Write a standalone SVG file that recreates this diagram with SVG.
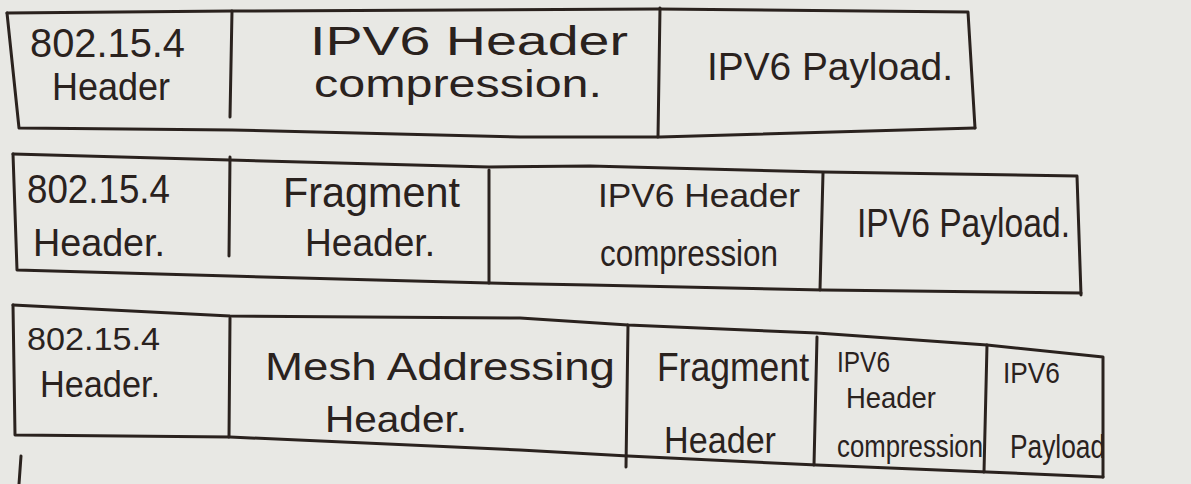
<svg xmlns="http://www.w3.org/2000/svg" width="1191" height="484" viewBox="0 0 1191 484">
  <style>
    .frame { fill: none; stroke: #2a221e; stroke-width: 3; stroke-linecap: round; stroke-linejoin: round; }
    .lbl { font-family: "Liberation Sans", Arial, sans-serif; fill: #2a221e; }
  </style>
  <rect width="1191" height="484" fill="#e8e8e4"/>

  <!-- Frame lines of the three frame layouts -->
  <g id="connectors">
    <!-- row 1 -->
    <path class="frame" d="M7,13 L232,11 L658,9 L968,12 L975,128"/>
    <path class="frame" d="M7,13 L19,128 L232,130 L520,137 L660,137 L975,128"/>
    <path class="frame" d="M232,11 L230,117"/>
    <path class="frame" d="M660,8 L658,137"/>
    <!-- row 2 -->
    <path class="frame" d="M13,154 L230,160 L489,167 L590,166 L823,172 L1077,176 L1081,295"/>
    <path class="frame" d="M13,154 L17,270 L230,276 L489,283 L590,285 L823,290 L1081,293"/>
    <path class="frame" d="M230,157 L229,256"/>
    <path class="frame" d="M489,170 L489,283"/>
    <path class="frame" d="M823,173 L820,290"/>
    <!-- row 3 -->
    <path class="frame" d="M13,305 L230,316 L520,318 L628,325 L817,333 L987,345 L1103,357 L1103,477"/>
    <path class="frame" d="M13,305 L15,435 L230,437 L520,450 L628,456 L817,465 L987,472 L1103,477"/>
    <path class="frame" d="M230,318 L229,437"/>
    <path class="frame" d="M628,325 L626,467"/>
    <path class="frame" d="M817,337 L814,465"/>
    <path class="frame" d="M987,345 L984,472"/>
    <path class="frame" d="M21,456 L19,484"/>
  </g>

  <!-- Row 1: plain compressed frame -->
  <g id="r1-mac">
    <text class="lbl" x="30" y="57" font-size="40" textLength="155" lengthAdjust="spacingAndGlyphs">802.15.4</text>
    <text class="lbl" x="52" y="100" font-size="38" textLength="118" lengthAdjust="spacingAndGlyphs">Header</text>
  </g>
  <g id="r1-iphc">
    <text class="lbl" x="310" y="55" font-size="40" textLength="318" lengthAdjust="spacingAndGlyphs">IPV6 Header</text>
    <text class="lbl" x="314" y="97" font-size="38" textLength="288" lengthAdjust="spacingAndGlyphs">compression.</text>
  </g>
  <g id="r1-payload">
    <text class="lbl" x="707" y="80" font-size="38" textLength="246" lengthAdjust="spacingAndGlyphs">IPV6 Payload.</text>
  </g>

  <!-- Row 2: fragmented frame -->
  <g id="r2-mac">
    <text class="lbl" x="27" y="203" font-size="40" textLength="143" lengthAdjust="spacingAndGlyphs">802.15.4</text>
    <text class="lbl" x="33" y="256" font-size="38" textLength="132" lengthAdjust="spacingAndGlyphs">Header.</text>
  </g>
  <g id="r2-frag">
    <text class="lbl" x="283" y="207" font-size="42" textLength="177" lengthAdjust="spacingAndGlyphs">Fragment</text>
    <text class="lbl" x="305" y="256" font-size="38" textLength="130" lengthAdjust="spacingAndGlyphs">Header.</text>
  </g>
  <g id="r2-iphc">
    <text class="lbl" x="598" y="207" font-size="34" textLength="202" lengthAdjust="spacingAndGlyphs">IPV6 Header</text>
    <text class="lbl" x="600" y="266" font-size="36" textLength="178" lengthAdjust="spacingAndGlyphs">compression</text>
  </g>
  <g id="r2-payload">
    <text class="lbl" x="857" y="237" font-size="40" textLength="213" lengthAdjust="spacingAndGlyphs">IPV6 Payload.</text>
  </g>

  <!-- Row 3: mesh-addressed fragmented frame -->
  <g id="r3-mac">
    <text class="lbl" x="27" y="350" font-size="32" textLength="133" lengthAdjust="spacingAndGlyphs">802.15.4</text>
    <text class="lbl" x="40" y="397" font-size="36" textLength="120" lengthAdjust="spacingAndGlyphs">Header.</text>
  </g>
  <g id="r3-mesh">
    <text class="lbl" x="265" y="380" font-size="38" textLength="350" lengthAdjust="spacingAndGlyphs">Mesh Addressing</text>
    <text class="lbl" x="325" y="432" font-size="36" textLength="142" lengthAdjust="spacingAndGlyphs">Header.</text>
  </g>
  <g id="r3-frag">
    <text class="lbl" x="657" y="381" font-size="40" textLength="152" lengthAdjust="spacingAndGlyphs">Fragment</text>
    <text class="lbl" x="664" y="453" font-size="36" textLength="112" lengthAdjust="spacingAndGlyphs">Header</text>
  </g>
  <g id="r3-iphc">
    <text class="lbl" x="837" y="372" font-size="30" textLength="53" lengthAdjust="spacingAndGlyphs">IPV6</text>
    <text class="lbl" x="846" y="408" font-size="30" textLength="90" lengthAdjust="spacingAndGlyphs">Header</text>
    <text class="lbl" x="837" y="457" font-size="32" textLength="146" lengthAdjust="spacingAndGlyphs">compression</text>
  </g>
  <g id="r3-payload">
    <text class="lbl" x="1003" y="383" font-size="30" textLength="57" lengthAdjust="spacingAndGlyphs">IPV6</text>
    <text class="lbl" x="1010" y="458" font-size="34" textLength="95" lengthAdjust="spacingAndGlyphs">Payload</text>
  </g>
</svg>
